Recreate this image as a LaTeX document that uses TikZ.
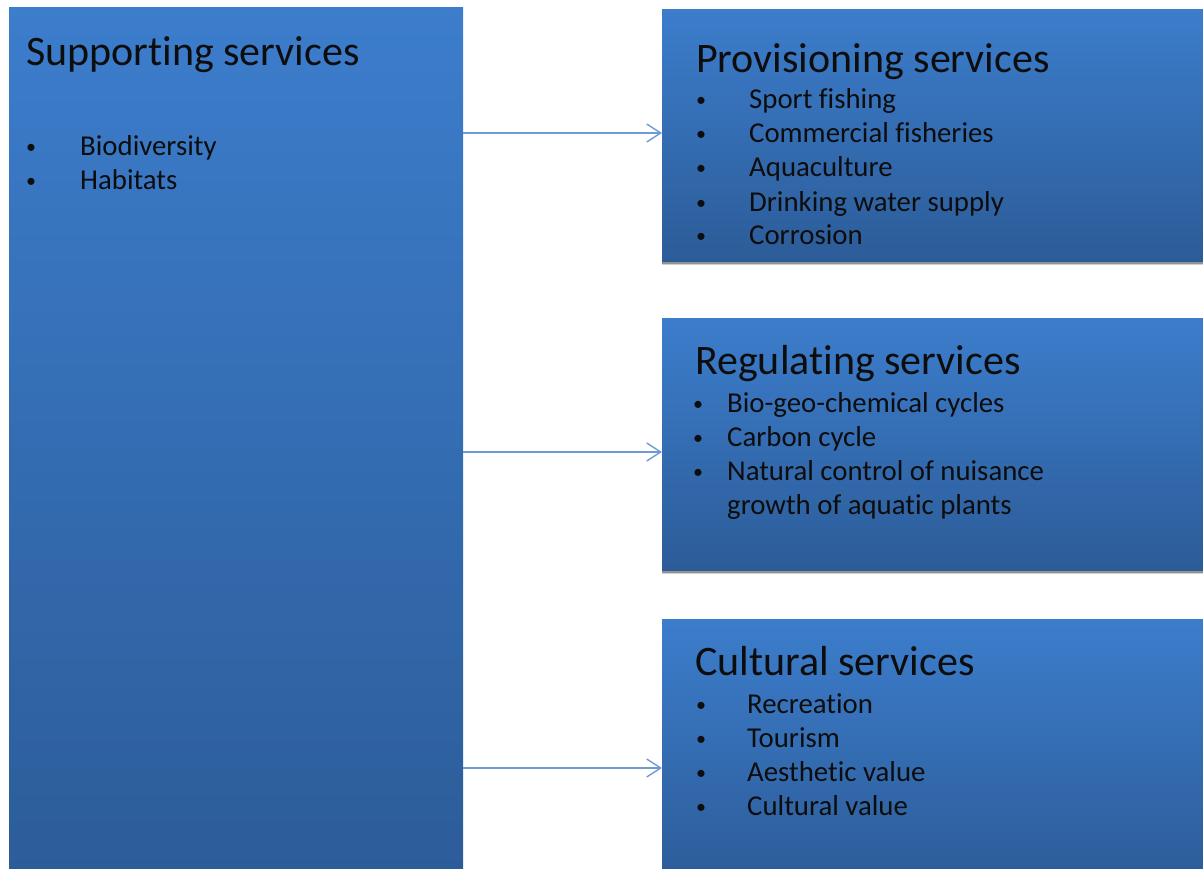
\documentclass[tikz,border=0pt]{standalone}
\usepackage{fontspec}
\setmainfont{Carlito}[Ligatures={NoCommon,NoRare,NoContextual}]
\usetikzlibrary{arrows.meta,shadows}
\definecolor{boxtop}{HTML}{3C7DCC}
\definecolor{boxbot}{HTML}{2C5C98}
\definecolor{arrowcol}{HTML}{6E9BD6}
\definecolor{txt}{HTML}{0D0D0D}
\tikzset{
  box/.style={rectangle, inner sep=0pt, anchor=north west,
    top color=boxtop, bottom color=boxbot,
    drop shadow={shadow xshift=0pt, shadow yshift=-4pt, opacity=0.18, fill=black},
    drop shadow={shadow xshift=0pt, shadow yshift=-2.5pt, opacity=0.3, fill=black}},
  title/.style={anchor=base west, inner sep=0pt, text=txt, font=\fontsize{42}{48}\selectfont},
  item/.style={anchor=base west, inner sep=0pt, text=txt, font=\fontsize{28.8}{34}\selectfont},
  bul/.style={anchor=base, inner sep=0pt, text=txt, font=\fontsize{20}{24}\selectfont},
  arr/.style={draw=arrowcol, line width=1.4pt, -{Straight Barb[length=14pt,width=18pt,line width=1.4pt]}}
}
\begin{document}
\begin{tikzpicture}[x=1pt,y=-1pt]
\useasboundingbox (0,0) rectangle (1203,869);
% boxes
\node[box, minimum width=454pt, minimum height=880pt] (sup) at (9,7) {};
\node[box, minimum width=560pt, minimum height=252pt] (prov) at (662,9) {};
\node[box, minimum width=560pt, minimum height=252pt] (reg) at (662,318) {};
\node[box, minimum width=560pt, minimum height=262pt] (cul) at (662,619) {};
% arrow levels
\coordinate (a1) at (0,133);
\coordinate (a2) at (0,452);
\coordinate (a3) at (0,768);
\draw[arr] (sup.east |- a1) -- (prov.west |- a1);
\draw[arr] (sup.east |- a2) -- (reg.west |- a2);
\draw[arr] (sup.east |- a3) -- (cul.west |- a3);
% supporting
\node[title] (supt) at (26,66) {Supporting services};
\node[bul] (sb1) at (31,154) {•};
\node[item] (si1) at (80,156) {Biodiversity};
\node[bul] (sb2) at (31,188) {•};
\node[item] (si2) at (80,190) {Habitats};
% provisioning
\node[title] (provt) at (696,73) {Provisioning services};
\node[bul] (pb1) at (701,107) {•};
\node[item] (pi1) at (749,109) {Sport fishing};
\node[bul] (pb2) at (701,141) {•};
\node[item] (pi2) at (749,143) {Commercial fisheries};
\node[bul] (pb3) at (701,175) {•};
\node[item] (pi3) at (749,177) {Aquaculture};
\node[bul] (pb4) at (701,210) {•};
\node[item] (pi4) at (749,212) {Drinking water supply};
\node[bul] (pb5) at (701,243) {•};
\node[item] (pi5) at (749,245) {Corrosion};
% regulating
\node[title] (regt) at (695,374) {Regulating services};
\node[bul] (rb1) at (698,410) {•};
\node[item] (ri1) at (727,412) {Bio-geo-chemical cycles};
\node[bul] (rb2) at (698,444) {•};
\node[item] (ri2) at (727,446) {Carbon cycle};
\node[bul] (rb3) at (698,478) {•};
\node[item] (ri3) at (727,480) {Natural control of nuisance};
\node[item] (ri4) at (727,514) {growth of aquatic plants};
% cultural
\node[title] (cult) at (695,675) {Cultural services};
\node[bul] (cb1) at (701,711) {•};
\node[item] (ci1) at (747,713) {Recreation};
\node[bul] (cb2) at (701,745) {•};
\node[item] (ci2) at (747,747) {Tourism};
\node[bul] (cb3) at (701,779) {•};
\node[item] (ci3) at (747,781) {Aesthetic value};
\node[bul] (cb4) at (701,813) {•};
\node[item] (ci4) at (747,815) {Cultural value};
\end{tikzpicture}
\end{document}
